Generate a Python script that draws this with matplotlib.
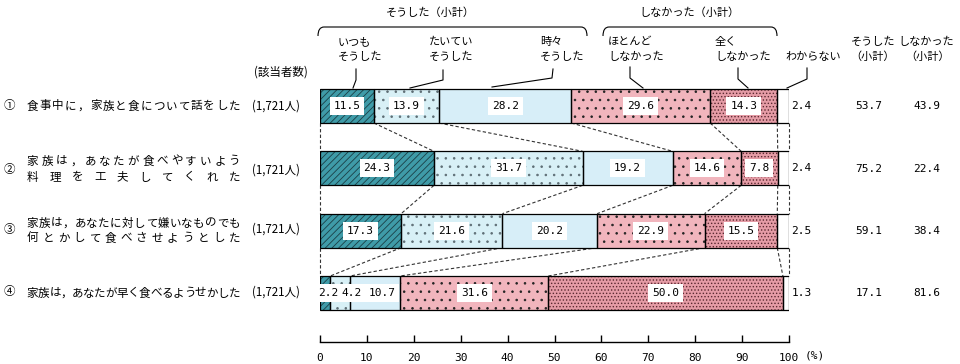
import matplotlib
matplotlib.use('Agg')
import matplotlib.pyplot as plt
import numpy as np
from matplotlib.path import Path
from matplotlib.patches import PathPatch

plt.rcParams['font.family'] = ['Noto Sans CJK JP', 'DejaVu Sans']
plt.rcParams['hatch.linewidth'] = 0.6

# ---------------- data ----------------
row_labels = [
    ['食事中に，家族と食について話をした'],
    ['家族は，あなたが食べやすいよう', '料理を工夫してくれた'],
    ['家族は，あなたに対して嫌いなものでも', '何とかして食べさせようとした'],
    ['家族は，あなたが早く食べるようせかした'],
]
row_numbers = ['①', '②', '③', '④']
respondents = ['(1,721人)', '(1,721人)', '(1,721人)', '(1,721人)']

always = [11.5, 24.3, 17.3, 2.2]
usually = [13.9, 31.7, 21.6, 4.2]
sometimes = [28.2, 19.2, 20.2, 10.7]
mostly_not = [29.6, 14.6, 22.9, 31.6]
never = [14.3, 7.8, 15.5, 50.0]
dont_know = [2.4, 2.4, 2.5, 1.3]
did_subtotal = [53.7, 75.2, 59.1, 17.1]
didnot_subtotal = [43.9, 22.4, 38.4, 81.6]

x_ticks = [0, 10, 20, 30, 40, 50, 60, 70, 80, 90, 100]

# ---------------- styles ----------------
series = [always, usually, sometimes, mostly_not, never, dont_know]
faces = ['#3f9ba8', '#d8f0f6', '#d7eef8', '#f1b5bd', '#e59ca6', '#ffffff']
hatches = ['/////', '..', None, '..', '.....', None]
hatch_cols = ['#1b3f46', '#5d6d74', '#d7eef8', '#222222', '#5a2830', '#ffffff']
num_font = dict(family='DejaVu Sans Mono', fontsize=8)

W, H = 960, 364
fig = plt.figure(figsize=(W / 100, H / 100), dpi=100)

# overlay axes in pixel coordinates for headers and labels
ov = fig.add_axes([0, 0, 1, 1], zorder=1)
ov.set_xlim(0, W)
ov.set_ylim(H, 0)
ov.axis('off')

# main bar axes
ax = fig.add_axes([320 / W, 22 / H, 469 / W, 342 / H], zorder=2)
ax.patch.set_alpha(0)
ax.set_xlim(0, 100)
ax.set_ylim(3.786, -1.7007)
for s in ['left', 'right', 'top']:
    ax.spines[s].set_visible(False)
ax.spines['bottom'].set_linewidth(1.0)
ax.set_yticks([])
ax.set_xticks(x_ticks)
ax.set_xticklabels([str(t) for t in x_ticks], **num_font)
ax.tick_params(axis='x', direction='in', length=5, width=1, pad=8)

ypos = np.arange(len(always))
bh = 0.546
data = np.array(series)  # (6, 4)
lefts = np.vstack([np.zeros(data.shape[1]), np.cumsum(data, axis=0)[:-1]])

for k in range(len(series)):
    ax.barh(ypos, data[k], left=lefts[k], height=bh, color=faces[k],
            hatch=hatches[k], edgecolor=hatch_cols[k], linewidth=0, zorder=2)
    ax.barh(ypos, data[k], left=lefts[k], height=bh, fill=False,
            edgecolor='black', linewidth=0.9, zorder=3)

# value labels
label_shift = {(3, 0): 0.6, (3, 1): 2.5, (3, 2): 1.45}
for k in range(5):
    for i in ypos:
        v = data[k][i]
        xc = lefts[k][i] + v / 2 + label_shift.get((i, k), 0)
        ax.text(xc, i, f'{v:.1f}', ha='center', va='center', zorder=5,
                bbox=dict(boxstyle='square,pad=0.35', fc='white', ec='none'),
                **num_font)
for i in ypos:
    ax.text(100.5, i, f'{dont_know[i]:.1f}', ha='left', va='center',
            zorder=5, **num_font)

# dashed connectors between bars
bounds = np.vstack([np.zeros(data.shape[1]), np.cumsum(data, axis=0)])
bounds[-1] = 100
for i in range(len(ypos) - 1):
    for b in range(bounds.shape[0]):
        ax.plot([bounds[b][i], bounds[b][i + 1]], [i + bh / 2, i + 1 - bh / 2],
                ls=(0, (3, 2)), color='#333333', lw=0.8, zorder=1, clip_on=False)

# subtotal columns
for i, yc in enumerate([106, 168.5, 230.5, 293]):
    ov.text(869, yc, f'{did_subtotal[i]:.1f}', ha='center', va='center', **num_font)
    ov.text(927, yc, f'{didnot_subtotal[i]:.1f}', ha='center', va='center', **num_font)

ov.text(805, 356, '(%)', ha='left', va='center', **num_font)

# row labels (justified character by character)
fs_lab = 8.3
cw = 11.3
line_y = [[106], [161, 177], [223, 238], [293]]
resp_y = [106, 170, 229, 292]
for i in range(4):
    ov.text(9, resp_y[i], row_numbers[i], ha='center', va='center', fontsize=fs_lab)
    ov.text(276, resp_y[i], respondents[i], ha='center', va='center', fontsize=fs_lab)
    for line, yl in zip(row_labels[i], line_y[i]):
        n = len(line)
        xs = np.linspace(27 + cw / 2, 240 - cw / 2, n)
        for ch, xx in zip(line, xs):
            ov.text(xx, yl, ch, ha='center', va='center', fontsize=fs_lab)

ov.text(281, 72, '(該当者数)', ha='center', va='center', fontsize=fs_lab)

# headers
fs_h = 8
hdr = [
    (338, ['いつも', 'そうした']),
    (429, ['たいてい', 'そうした']),
    (540, ['時々', 'そうした']),
    (608, ['ほとんど', 'しなかった']),
    (715, ['全く', 'しなかった']),
]
for x0, lines in hdr:
    ov.text(x0, 42, lines[0], ha='left', va='center', fontsize=fs_h)
    ov.text(x0, 57, lines[1], ha='left', va='center', fontsize=fs_h)
ov.text(785, 57, 'わからない', ha='left', va='center', fontsize=fs_h)
ov.text(873, 42, 'そうした', ha='center', va='center', fontsize=fs_h)
ov.text(873, 57, '（小計）', ha='center', va='center', fontsize=fs_h)
ov.text(926, 42, 'しなかった', ha='center', va='center', fontsize=fs_h)
ov.text(928, 57, '（小計）', ha='center', va='center', fontsize=fs_h)
ov.text(430, 13, 'そうした（小計）', ha='center', va='center', fontsize=fs_h)
ov.text(689, 13, 'しなかった（小計）', ha='center', va='center', fontsize=fs_h)

# brackets
def bracket(x0, x1, ytop=27, ybot=36, r=6):
    verts = [(x0, ybot), (x0, ytop), (x0 + r, ytop), (x1 - r, ytop),
             (x1, ytop), (x1, ybot)]
    codes = [Path.MOVETO, Path.CURVE3, Path.CURVE3, Path.LINETO,
             Path.CURVE3, Path.CURVE3]
    ov.add_patch(PathPatch(Path(verts, codes), fill=False, lw=0.8, ec='black'))

bracket(318, 587)
bracket(603, 777)

# leader lines
leaders = [
    [(356, 69), (356, 80), (353, 88)],
    [(443, 70), (443, 80), (410, 88)],
    [(553, 69), (552, 78), (492, 87)],
    [(630, 67), (630, 78), (643, 88)],
    [(738, 68), (738, 79), (748, 88)],
    [(807, 68), (807, 79), (787, 88)],
]
for pts in leaders:
    xs, ys = zip(*pts)
    ov.plot(xs, ys, color='black', lw=0.8)

fig.savefig('out.png', dpi=100)
